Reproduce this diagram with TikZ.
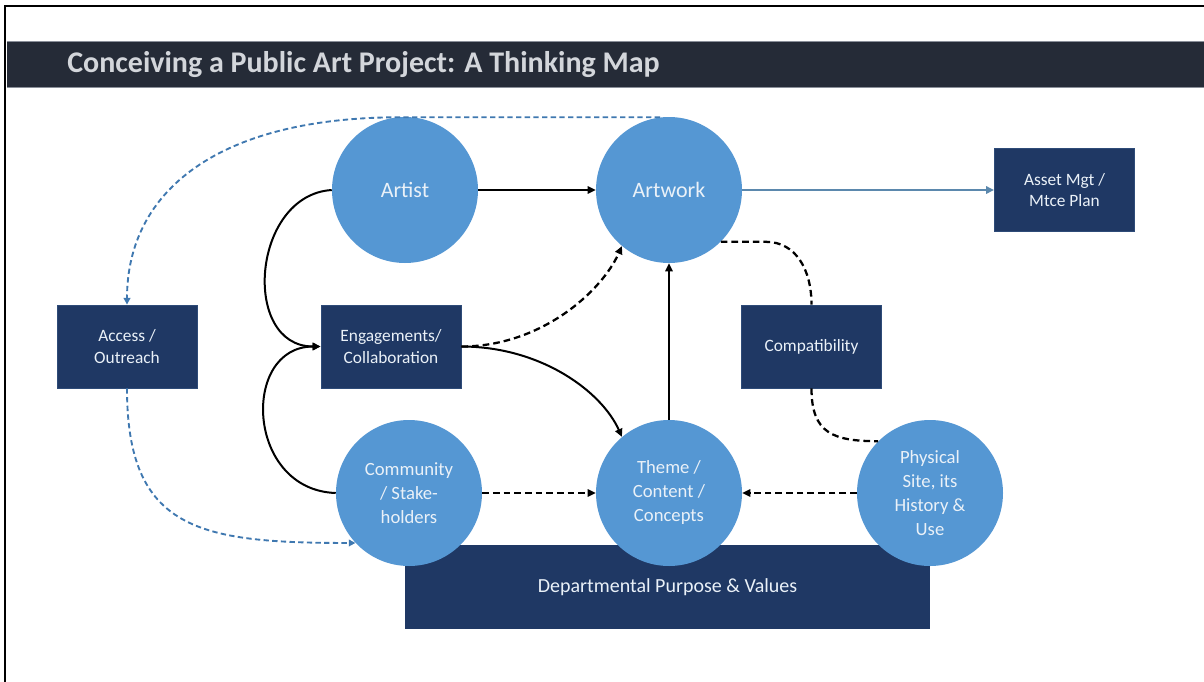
\documentclass[tikz,border=0pt]{standalone}
\usepackage{fontspec}
\setmainfont{Carlito}
\usetikzlibrary{arrows.meta}
\definecolor{navy}{HTML}{1F3864}
\definecolor{navyedge}{HTML}{2E4B78}
\definecolor{bubblefill}{HTML}{5597D3}
\definecolor{barfill}{HTML}{252B37}
\definecolor{barline}{HTML}{8A8F99}
\definecolor{titletext}{HTML}{D3D6DB}
\definecolor{lighttext}{HTML}{EAF1F8}
\definecolor{steel}{HTML}{5B88AD}
\definecolor{bluedash}{HTML}{3F78B0}
\begin{document}
\begin{tikzpicture}[x=0.75pt,y=-0.75pt,
  bubble/.style={circle, fill=bubblefill, minimum size=109.5pt, inner sep=0pt,
    align=center, text=lighttext},
  bigtext/.style={font=\fontsize{16.5}{20}\selectfont},
  smalltext/.style={font=\fontsize{14}{18}\selectfont},
  navybox/.style={rectangle, fill=navy, draw=navyedge, line width=0.6pt,
    minimum width=105pt, minimum height=62.25pt, inner sep=0pt, align=center,
    text=lighttext, font=\fontsize{13}{16}\selectfont},
  deptbox/.style={rectangle, fill=navy, minimum width=393.75pt, minimum height=63pt,
    inner sep=0pt, text=lighttext, font=\fontsize{15}{18}\selectfont},
  solidarrow/.style={line width=1.5pt, -{Triangle[length=6pt,width=5.5pt]}},
  dasharrow/.style={line width=1.7pt, dash pattern=on 5pt off 3pt,
    -{Triangle[length=6pt,width=5.5pt]}},
  dashline/.style={line width=1.7pt, dash pattern=on 5pt off 3pt},
  bluedashed/.style={line width=1.4pt, draw=bluedash, dash pattern=on 4pt off 2.5pt,
    -{Triangle[length=5pt,width=5pt]}}
]
\useasboundingbox (0,0) rectangle (1204,682);
\fill[white] (0,0) rectangle (1204,682);

% page frame: left and top rules
\draw[line width=2.2pt] (5,682) -- (5,6) -- (1204,6);

% title bar
\fill[barfill] (7,41) rectangle (1204,88);
\draw[barline, line width=1pt] (7,41.5) -- (1204,41.5);
\draw[barline, line width=1pt] (7,87.5) -- (1204,87.5);
\node[anchor=west, text=titletext, font=\fontsize{22.5}{27}\selectfont\bfseries, inner sep=0pt]
  (title) at (67,64.5) {Conceiving a Public Art Project: A Thinking Map};

% base panel
\node[deptbox] (dept) at (667.5,587) {Departmental Purpose \& Values};

% circles
\node[bubble, bigtext] (artist) at (405,190) {Artist};
\node[bubble, bigtext] (artwork) at (669,190) {Artwork};
\node[bubble, smalltext] (comm) at (409,493) {Community\\/ Stake-\\holders};
\node[bubble, smalltext] (theme) at (669,493) {Theme /\\Content /\\Concepts};
\node[bubble, smalltext] (phys) at (930,493) {Physical\\Site, its\\History \&\\Use};

% boxes
\node[navybox] (access) at (127,346.5) {Access /\\Outreach};
\node[navybox] (eng) at (391,346.5) {Engagements/\\Collaboration};
\node[navybox] (compat) at (811.5,346.5) {Compatibility};
\node[navybox] (asset) at (1064.5,190) {Asset Mgt /\\Mtce Plan};

% solid connectors
\draw[solidarrow] (artist.east) -- (artwork.west);
\draw[solidarrow, draw=steel, line width=1.4pt] (artwork.east) -- (asset.west);
\draw[solidarrow] (theme.north) -- (artwork.south);
\draw[solidarrow] (artist.west) .. controls +(-80,5) and +(-80,0) .. (eng.west);
\draw[solidarrow] (comm.west) .. controls +(-90,-3) and +(-80,0) .. (eng.west);
\draw[solidarrow] (eng.east) .. controls +(80,0) and +(-20,-45) .. (theme.130);

% dashed connectors
\draw[dasharrow] (eng.east) .. controls +(80,0) and +(-20,45) .. (artwork.230);
\draw[dasharrow] (comm.east) -- (theme.west);
\draw[dasharrow] (phys.west) -- (theme.east);
\draw[dashline] (artwork.-45) -- ++(45,0) .. controls +(30,0) and +(0,-35) .. (compat.north);
\draw[dashline] (compat.south) .. controls +(0,45) and +(-45,0) .. (phys.135);

% outreach loop
\draw[bluedashed] (artwork.97) -- ++(-260,0) .. controls +(-180,0) and +(0,-115) .. (access.north);
\draw[bluedashed] (access.south) .. controls +(0,142) and +(-156,0) .. (comm.223);
\end{tikzpicture}
\end{document}
